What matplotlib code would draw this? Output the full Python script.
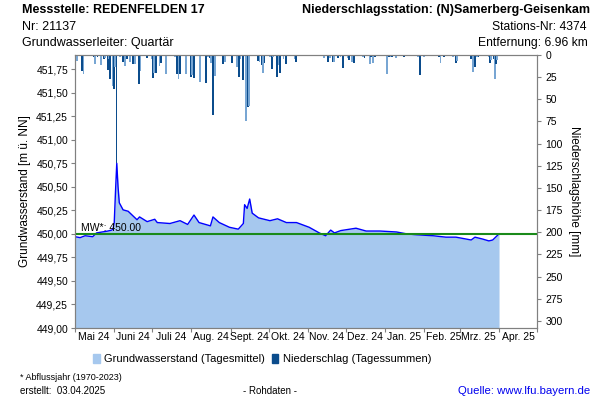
import pandas as pd
import numpy as np
import matplotlib.pyplot as plt
import matplotlib.dates as mdates
from matplotlib.patches import Patch
from matplotlib.ticker import FuncFormatter, MultipleLocator

plt.rcParams["font.family"] = ["Liberation Sans", "DejaVu Sans"]

# Grundwasserstand (Tagesmittel)
gw_dates = [
    "2024-05-01", "2024-05-05", "2024-05-09", "2024-05-15", "2024-05-18", "2024-05-27",
    "2024-05-30", "2024-05-31", "2024-06-01", "2024-06-02", "2024-06-03", "2024-06-04",
    "2024-06-05", "2024-06-07", "2024-06-08", "2024-06-12", "2024-06-19", "2024-06-21",
    "2024-06-27", "2024-07-03", "2024-07-05", "2024-07-15", "2024-07-23", "2024-07-29",
    "2024-08-03", "2024-08-07", "2024-08-16", "2024-08-18", "2024-08-23", "2024-08-31",
    "2024-09-07", "2024-09-11", "2024-09-12", "2024-09-14", "2024-09-16", "2024-09-18",
    "2024-09-23", "2024-10-02", "2024-10-08", "2024-10-15", "2024-10-23", "2024-10-25",
    "2024-10-31", "2024-11-02", "2024-11-10", "2024-11-15", "2024-11-19", "2024-11-22",
    "2024-11-27", "2024-12-09", "2024-12-17", "2024-12-28", "2025-01-10", "2025-01-18",
    "2025-01-26", "2025-02-08", "2025-02-18", "2025-02-26", "2025-03-06", "2025-03-10",
    "2025-03-13", "2025-03-19", "2025-03-24", "2025-03-27", "2025-04-01",
]
gw_level = [
    449.97, 449.96, 449.98, 449.97, 450.01, 450.03,
    450.04, 450.05, 450.12, 450.45, 450.75, 450.50,
    450.33, 450.28, 450.255, 450.24, 450.15, 450.18,
    450.13, 450.155, 450.12, 450.11, 450.14, 450.10,
    450.20, 450.12, 450.085, 450.18, 450.12, 450.07,
    450.05, 450.11, 450.31, 450.27, 450.37, 450.22,
    450.17, 450.14, 450.16, 450.12, 450.12, 450.11,
    450.08, 450.07, 450.01, 449.98, 450.04, 450.01,
    450.035, 450.06, 450.03, 450.03, 450.02, 450.00,
    449.99, 449.98, 449.965, 449.965, 449.945, 449.935,
    449.965, 449.945, 449.925, 449.935, 450.00,
]

# Niederschlag (Tagessummen) in mm
rain_dates = [
    "2024-05-01", "2024-05-02", "2024-05-06", "2024-05-07", "2024-05-15", "2024-05-16",
    "2024-05-18", "2024-05-21", "2024-05-23", "2024-05-24", "2024-05-26", "2024-05-27",
    "2024-05-28", "2024-05-30", "2024-05-31", "2024-06-01", "2024-06-02", "2024-06-05",
    "2024-06-07", "2024-06-09", "2024-06-10", "2024-06-13", "2024-06-15", "2024-06-17",
    "2024-06-20", "2024-06-21", "2024-06-26", "2024-06-30", "2024-07-01", "2024-07-02",
    "2024-07-03", "2024-07-06", "2024-07-07", "2024-07-11", "2024-07-15", "2024-07-18",
    "2024-07-20", "2024-07-21", "2024-07-22", "2024-07-27", "2024-07-31", "2024-08-01",
    "2024-08-02", "2024-08-07", "2024-08-12", "2024-08-13", "2024-08-15", "2024-08-16",
    "2024-08-17", "2024-08-19", "2024-08-25", "2024-08-27", "2024-09-01", "2024-09-05",
    "2024-09-07", "2024-09-08", "2024-09-10", "2024-09-12", "2024-09-14", "2024-09-15",
    "2024-09-22", "2024-09-23", "2024-09-25", "2024-09-26", "2024-09-27", "2024-10-01",
    "2024-10-03", "2024-10-04", "2024-10-07", "2024-10-08", "2024-10-09", "2024-10-12",
    "2024-10-14", "2024-10-21", "2024-10-22", "2024-11-13", "2024-11-16", "2024-11-18",
    "2024-11-20", "2024-11-21", "2024-11-24", "2024-11-26", "2024-11-28", "2024-12-02",
    "2024-12-03", "2024-12-05", "2024-12-07", "2024-12-14", "2024-12-15", "2024-12-19",
    "2024-12-20", "2024-12-22", "2024-12-23", "2025-01-02", "2025-01-03", "2025-01-05",
    "2025-01-06", "2025-01-09", "2025-01-15", "2025-01-26", "2025-01-28", "2025-01-31",
    "2025-02-12", "2025-02-13", "2025-02-16", "2025-02-23", "2025-02-25", "2025-02-26",
    "2025-03-09", "2025-03-11", "2025-03-12", "2025-03-14", "2025-03-15", "2025-03-23",
    "2025-03-24", "2025-03-25", "2025-03-27", "2025-03-28", "2025-03-29", "2025-03-30",
]
rain_mm = [
    5.6, 6.4, 17.7, 21.4, 2.0, 10.0,
    2.0, 11.3, 4.0, 3.0, 16.9, 5.0,
    27.4, 35.0, 38.7, 13.0, 121.6, 2.0,
    7.5, 12.4, 5.0, 7.5, 10.0, 10.5,
    32.7, 17.6, 3.0, 5.0, 26.3, 20.6,
    20.6, 12.4, 9.4, 21.4, 1.5, 2.0,
    21.0, 27.4, 21.0, 21.4, 24.4, 22.5,
    26.3, 31.0, 31.9, 2.5, 3.4, 8.6,
    67.6, 23.6, 10.5, 7.5, 8.6, 13.0,
    24.4, 5.0, 28.0, 75.0, 59.0, 57.0,
    6.4, 7.5, 11.3, 20.0, 8.6, 2.0,
    16.0, 2.0, 25.0, 11.3, 20.6, 5.0,
    10.0, 5.0, 7.5, 3.8, 7.5, 3.8,
    7.5, 7.5, 3.8, 2.0, 15.0, 3.8,
    5.6, 7.5, 8.6, 2.0, 3.8, 10.5,
    2.0, 8.6, 2.5, 21.4, 2.5, 2.5,
    2.0, 3.8, 2.0, 2.0, 22.5, 2.0,
    2.0, 8.6, 2.5, 2.5, 8.6, 6.6,
    4.5, 18.8, 13.0, 2.5, 2.0, 2.0,
    8.6, 5.6, 4.5, 27.4, 10.5, 5.6,
]

mw_value = 450.00
month_labels = ["Mai 24", "Juni 24", "Juli 24", "Aug. 24", "Sept. 24", "Okt. 24",
                "Nov. 24", "Dez. 24", "Jan. 25", "Feb. 25", "Mrz. 25", "Apr. 25"]

gw = pd.DataFrame({"date": pd.to_datetime(gw_dates), "level": gw_level})
rain = pd.DataFrame({"date": pd.to_datetime(rain_dates), "mm": rain_mm})

fig = plt.figure(figsize=(6, 4), dpi=100)
ax = fig.add_axes([75 / 600, 1 - 328 / 400, 462 / 600, 273 / 400])

gray = "#808080"
ax.fill_between(gw["date"], 449.0, gw["level"], color="#a6c8ee", lw=0, zorder=1)
ax.plot(gw["date"], gw["level"], color="#0000ff", lw=1.0, zorder=3)
ax.axhline(mw_value, color="#1a8a1a", lw=1.5, zorder=4)
ax.text(pd.Timestamp("2024-05-06"), mw_value + 0.01, "MW*: 450.00", fontsize=7.5,
        va="bottom", ha="left", zorder=5)

ax.set_xlim(pd.Timestamp("2024-05-01"), pd.Timestamp("2025-05-01"))
ax.set_ylim(449.0, 451.9)
ax.yaxis.set_major_locator(MultipleLocator(0.25))
ax.yaxis.set_major_formatter(FuncFormatter(lambda v, p: f"{v:.2f}".replace(".", ",")))
ax.set_ylabel("Grundwasserstand [m ü. NN]", fontsize=8.5, labelpad=4)

ax.xaxis.set_major_locator(mdates.MonthLocator())
ax.xaxis.set_major_formatter(plt.NullFormatter())
mid_months = pd.date_range("2024-05-01", periods=12, freq="MS") + pd.Timedelta(days=15)
ax.set_xticks(mid_months, minor=True)
ax.set_xticklabels(month_labels, minor=True)
ax.tick_params(axis="x", which="minor", length=0, labelsize=7.5, pad=3)
ax.tick_params(axis="x", which="major", length=3, color=gray)
ax.tick_params(axis="y", labelsize=7.5, length=3, color=gray, pad=2)
for s in ax.spines.values():
    s.set_color(gray)

ax2 = ax.twinx()
colors = ["#0b4c8c" if i % 2 == 0 else "#78a6d3" for i in range(len(rain))]
ax2.bar(rain["date"], rain["mm"], width=1.5, color=colors, lw=0, align="edge", zorder=2)
ax2.set_ylim(308, 0)
ax2.yaxis.set_major_locator(MultipleLocator(25))
ax2.tick_params(axis="y", labelsize=7.5, length=3, color=gray, pad=3)
ax2.set_ylabel("Niederschlagshöhe [mm]", fontsize=8.5, rotation=270, labelpad=12)
for s in ax2.spines.values():
    s.set_color(gray)

# header
fig.text(22 / 600, 1 - 10 / 400, "Messstelle: REDENFELDEN 17", fontsize=9, fontweight="bold", va="center")
fig.text(22 / 600, 1 - 27 / 400, "Nr: 21137", fontsize=9, va="center")
fig.text(22 / 600, 1 - 43 / 400, "Grundwasserleiter: Quartär", fontsize=9, va="center")
fig.text(590 / 600, 1 - 10 / 400, "Niederschlagsstation: (N)Samerberg-Geisenkam", fontsize=9,
         fontweight="bold", va="center", ha="right")
fig.text(586 / 600, 1 - 27 / 400, "Stations-Nr: 4374", fontsize=8.75, va="center", ha="right")
fig.text(588 / 600, 1 - 43 / 400, "Entfernung: 6.96 km", fontsize=8.75, va="center", ha="right")

# legend
handles = [Patch(color="#a6c8ee", label="Grundwasserstand (Tagesmittel)"),
           Patch(color="#0b4c8c", label="Niederschlag (Tagessummen)")]
fig.legend(handles=handles, loc="center", bbox_to_anchor=(262 / 600, 1 - 359 / 400), ncol=2,
           frameon=False, fontsize=8, handlelength=0.6, handleheight=0.9, handletextpad=0.4,
           columnspacing=0.6)

# footer
fig.text(20 / 600, 1 - 377 / 400, "* Abflussjahr (1970-2023)", fontsize=6.5, va="center")
fig.text(20 / 600, 1 - 391 / 400, "erstellt:  03.04.2025", fontsize=7, va="center")
fig.text(270 / 600, 1 - 391 / 400, "- Rohdaten -", fontsize=7, va="center", ha="center")
fig.text(590 / 600, 1 - 391 / 400, "Quelle: www.lfu.bayern.de", fontsize=8.2, va="center",
         ha="right", color="#0000ee")

fig.savefig("out.png", dpi=100)
